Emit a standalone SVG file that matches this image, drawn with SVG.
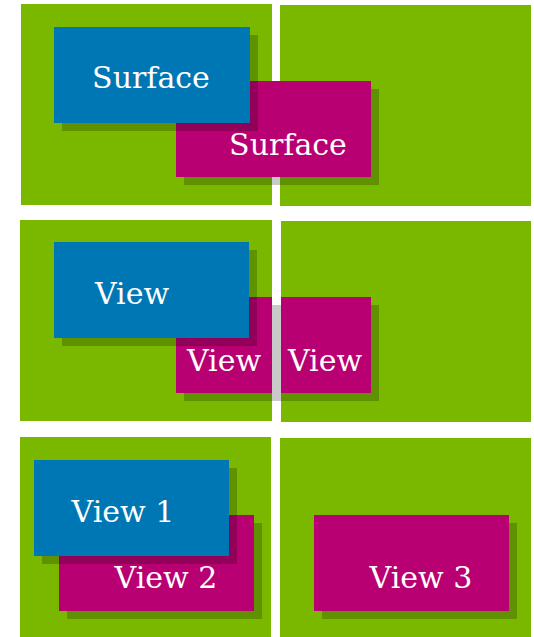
<svg xmlns="http://www.w3.org/2000/svg" width="534" height="637" viewBox="0 0 534 637">
<defs>
<style>
.panel{fill:#7ab800}
.blue{fill:#0077b5}
.pink{fill:#b80072}
.shadow{fill:#000;fill-opacity:0.21}
.lbl{font-family:"DejaVu Serif","Liberation Serif",serif;font-size:30px;fill:#ffffff;text-anchor:middle}
</style>
</defs>
<rect width="534" height="637" fill="#ffffff"/>
<g id="row1">
  <rect id="panel1a" class="panel" x="21" y="4" width="251" height="201"/>
  <rect id="panel1b" class="panel" x="280" y="5" width="251" height="201"/>
  <g id="surface2">
    <rect class="shadow" x="184" y="89" width="195" height="96"/>
    <rect class="pink" x="176" y="81" width="195" height="96"/>
    <text class="lbl" x="288" y="155">Surface</text>
  </g>
  <g id="surface1">
    <rect class="shadow" x="62" y="35" width="196" height="96"/>
    <rect class="blue" x="54" y="27" width="196" height="96"/>
    <text class="lbl" x="151" y="88">Surface</text>
  </g>
</g>
<g id="row2">
  <rect id="panel2a" class="panel" x="20" y="220" width="252" height="201"/>
  <rect id="panel2b" class="panel" x="281" y="221" width="250" height="201"/>
  <g id="view2">
    <rect class="shadow" x="184" y="305" width="195" height="96"/>
    <rect class="pink" x="176" y="297" width="96" height="96"/>
    <rect class="pink" x="281" y="297" width="90" height="96"/>
    <text class="lbl" x="224" y="371">View</text>
    <text class="lbl" x="325" y="371">View</text>
  </g>
  <g id="view1">
    <rect class="shadow" x="62" y="250" width="195" height="96"/>
    <rect class="blue" x="54" y="242" width="195" height="96"/>
    <text class="lbl" x="132" y="304">View</text>
  </g>
</g>
<g id="row3">
  <rect id="panel3a" class="panel" x="20" y="437" width="251" height="200"/>
  <rect id="panel3b" class="panel" x="280" y="438" width="251" height="199"/>
  <g id="view-2">
    <rect class="shadow" x="67" y="523" width="195" height="96"/>
    <rect class="pink" x="59" y="515" width="195" height="96"/>
    <text class="lbl" x="166" y="588">View 2</text>
  </g>
  <g id="view-1">
    <rect class="shadow" x="42" y="468" width="195" height="96"/>
    <rect class="blue" x="34" y="460" width="195" height="96"/>
    <text class="lbl" x="123" y="522">View 1</text>
  </g>
  <g id="view-3">
    <rect class="shadow" x="322" y="523" width="195" height="96"/>
    <rect class="pink" x="314" y="515" width="195" height="96"/>
    <text class="lbl" x="421" y="588">View 3</text>
  </g>
</g>
<g id="connectors"/>
</svg>
